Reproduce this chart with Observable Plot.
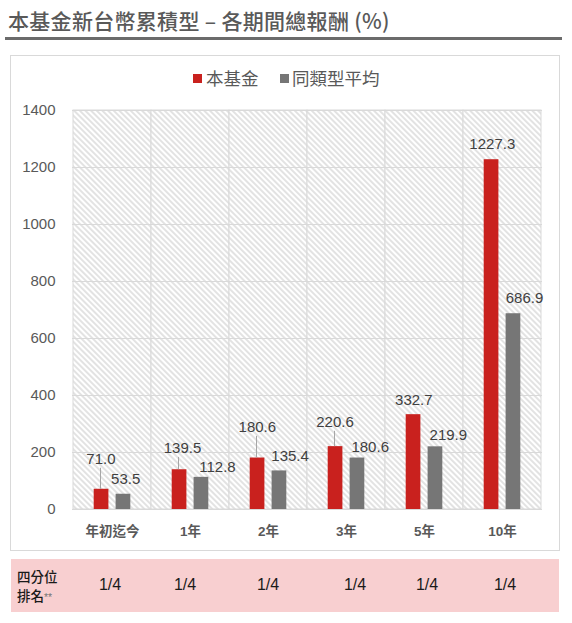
<!DOCTYPE html>
<html>
<head>
<meta charset="utf-8">
<script src="https://cdn.jsdelivr.net/npm/d3@7"></script>
<script src="https://cdn.jsdelivr.net/npm/@observablehq/plot@0.6"></script>
<style>
  body { margin: 0; background: #fff; font-family: "Liberation Sans", "Noto Sans CJK TC", sans-serif; }
  #wrap { position: relative; width: 572px; height: 623px; overflow: hidden; }
  #title { position: absolute; left: 8px; top: 5px; font-size: 21px; line-height: 30px; color: #595959; font-weight: 500; white-space: nowrap; font-family: "Noto Sans CJK TC", sans-serif; letter-spacing: 0.3px; }
  #rule { position: absolute; left: 5px; top: 37px; width: 557px; height: 3px; background: #6b6b6b; }
  #box { position: absolute; left: 10px; top: 55px; width: 548px; height: 494px; border: 1px solid #d9d9d9; }
  #chart { position: absolute; left: 0; top: 0; }
  .lg { position: absolute; font-size: 17.5px; line-height: 20px; color: #595959; font-family: "Noto Sans CJK TC", sans-serif; white-space: nowrap; }
  .sw { position: absolute; width: 9px; height: 9px; }
  #table { position: absolute; left: 11px; top: 559px; width: 548px; height: 53px; background: #f8cfd0; }
  .rh { position: absolute; left: 6px; font-size: 13.5px; line-height: 16px; height: 16px; color: #1a1a1a; font-family: "Noto Sans CJK TC", sans-serif; font-weight: 500; white-space: nowrap; }
  .rh .st { color: #777; font-size: 10.5px; font-family: "Liberation Sans", sans-serif; }
  .rank { position: absolute; top: 16px; font-size: 16px; line-height: 20px; color: #1a1a1a; transform: translateX(-50%); }
</style>
</head>
<body>
<div id="wrap">
  <div id="title"></div>
  <div id="rule"></div>
  <div id="box"><div id="chart"></div></div>
  <div id="table">
    <div class="rh" style="top:8.5px">四分位</div>
    <div class="rh" style="top:28px">排名<span class="st">**</span></div>
  </div>
</div>
<script>
// ---- data ----
const titleText = "本基金新台幣累積型 – 各期間總報酬 (%)";
const categories = ["年初迄今", "1年", "2年", "3年", "5年", "10年"];
const seriesNames = ["本基金", "同類型平均"];
const fundValues = [71.0, 139.5, 180.6, 220.6, 332.7, 1227.3];
const peerValues = [53.5, 112.8, 135.4, 180.6, 219.9, 686.9];
const quartileRanks = ["1/4", "1/4", "1/4", "1/4", "1/4", "1/4"];
const yTicks = [0, 200, 400, 600, 800, 1000, 1200, 1400];

// ---- layout / style (not data) ----
const colors = { fund: "#c9211e", peer: "#767676" };
const fundLabelDx = [-11.6, -8, -11.2, -11.5, -10.7, -10.2];
const fundLabelGap = [25, 16.3, 25.6, 19.3, 10, 10.7];
const fundLeader = [true, true, true, true, false, false];
const peerLabelDx = [13.2, 27, 21.6, 23.7, 23.8, 22];
const peerLabelGap = [10.6, 5.6, 10, 5.6, 7, 10.6];
const rankCenters = [99, 174, 257, 344, 416, 494];

document.getElementById("title").textContent = titleText;

const fund = categories.map((c, i) => ({ category: c, value: fundValues[i] }));
const peer = categories.map((c, i) => ({ category: c, value: peerValues[i] }));

const labelMarks = [];
fund.forEach((d, i) => {
  if (fundLeader[i]) {
    labelMarks.push(Plot.ruleX([d], { x: "category", y1: "value", y2: "value", dx: -12, insetBottom: fundLabelGap[i] - 4, stroke: "#a6a6a6", strokeWidth: 1 }));
  }
  labelMarks.push(Plot.text([d], { x: "category", y: "value", text: (r) => r.value.toFixed(1), dx: fundLabelDx[i], dy: -fundLabelGap[i], lineAnchor: "bottom", fill: "#404040", fontSize: 15 }));
});
peer.forEach((d, i) => {
  labelMarks.push(Plot.text([d], { x: "category", y: "value", text: (r) => r.value.toFixed(1), dx: peerLabelDx[i], dy: -peerLabelGap[i], lineAnchor: "bottom", fill: "#404040", fontSize: 15 }));
});

const svg = Plot.plot({
  width: 548,
  height: 494,
  marginLeft: 61,
  marginRight: 17,
  marginTop: 54,
  marginBottom: 41,
  style: { fontFamily: '"Liberation Sans", "Noto Sans CJK TC", sans-serif', fontSize: "15px", color: "#595959", background: "transparent", overflow: "visible" },
  x: { domain: categories, padding: 0, tickSize: 0, tickPadding: 17, label: null },
  y: { domain: [0, 1400], ticks: yTicks, tickSize: 0, tickPadding: 17, label: null, tickFormat: (d) => String(d) },
  marks: [
    Plot.barY(categories, { x: (d) => d, y1: 0, y2: 1400, fill: "url(#hatch)", stroke: "#d9d9d9", strokeWidth: 1 }),
    Plot.ruleY(yTicks, { y: (d) => d, stroke: "#d9d9d9", strokeWidth: 1 }),
    Plot.barY(fund, { x: "category", y: "value", fill: colors.fund, insetLeft: 20.7, insetRight: 42.6 }),
    Plot.barY(peer, { x: "category", y: "value", fill: colors.peer, insetLeft: 42.6, insetRight: 20.7 }),
    ...labelMarks
  ]
});

// hatch pattern for plot background
const defs = d3.select(svg).insert("defs", ":first-child");
const pat = defs.append("pattern").attr("id", "hatch").attr("patternUnits", "userSpaceOnUse")
  .attr("width", 4).attr("height", 4).attr("patternTransform", "rotate(-45)");
pat.append("rect").attr("width", 4).attr("height", 4).attr("fill", "#ffffff");
pat.append("line").attr("x1", 2).attr("y1", 0).attr("x2", 2).attr("y2", 4).attr("stroke", "#d0d0d0").attr("stroke-width", 1.2);

// x axis labels: bold, smaller
d3.select(svg).selectAll('g[aria-label^="x-axis"] text')
  .attr("font-size", "13.5px").attr("font-weight", "bold").attr("fill", "#595959")
  .style("font-family", '"Liberation Sans", "Noto Sans CJK TC", sans-serif');

document.getElementById("chart").appendChild(svg);

// legend
const box = document.getElementById("box");
const legendItems = [
  { name: seriesNames[0], color: colors.fund, sw: 182, tx: 195 },
  { name: seriesNames[1], color: colors.peer, sw: 268.5, tx: 281 }
];
legendItems.forEach((it) => {
  const s = document.createElement("div");
  s.className = "sw"; s.style.left = it.sw + "px"; s.style.top = "18px"; s.style.background = it.color;
  box.appendChild(s);
  const t = document.createElement("div");
  t.className = "lg"; t.style.left = it.tx + "px"; t.style.top = "12px"; t.textContent = it.name;
  box.appendChild(t);
});

// quartile rank row
const table = document.getElementById("table");
quartileRanks.forEach((r, i) => {
  const el = document.createElement("div");
  el.className = "rank"; el.style.left = rankCenters[i] + "px"; el.textContent = r;
  table.appendChild(el);
});
</script>
</body>
</html>
